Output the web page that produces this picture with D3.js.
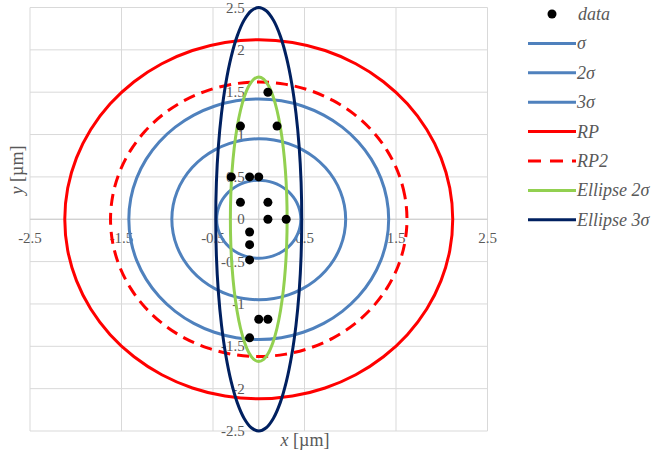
<html>
<head>
    <script src="https://cdn.jsdelivr.net/npm/d3@7"></script>
</head>
<body style="margin:0; background:#fff">
    <svg id="chart" width="665" height="451"></svg>
    <script>
        // measured data points [x, y] in µm
        var pointsX = [0.1, -0.2, 0.2, -0.3, -0.1, 0, -0.2, 0.1, 0.1, 0.3, -0.1, -0.1, -0.1, 0, 0.1, -0.1];
        var pointsY = [1.5, 1.1, 1.1, 0.5, 0.5, 0.5, 0.2, 0.2, 0, 0, -0.15, -0.3, -0.48, -1.18, -1.18, -1.4];

        // curve series: name, radius x, radius y, colour, dash
        var seriesNames = ["σ", "2σ", "3σ", "RP", "RP2", "Ellipse 2σ", "Ellipse 3σ"];
        var radiusX = [0.46, 0.95, 1.42, 2.12, 1.62, 0.31, 0.47];
        var radiusY = [0.46, 0.95, 1.42, 2.12, 1.62, 1.68, 2.5];
        var seriesColors = ["#4f81bd", "#4f81bd", "#4f81bd", "#ff0000", "#ff0000", "#92d050", "#002060"];
        var seriesDash = [null, null, null, null, "12,7", null, null];

        var xTickLabels = [-2.5, -1.5, -0.5, 0.5, 1.5, 2.5];
        var yTickLabels = [-2.5, -2, -1.5, -1, -0.5, 0, 0.5, 1, 1.5, 2, 2.5];

        var font = "Liberation Serif";
        var svg = d3.select("#chart");

        var x = d3.scaleLinear().domain([-2.5, 2.5]).range([30, 487.5]);
        var y = d3.scaleLinear().domain([-2.5, 2.5]).range([431, 7.5]);

        // grid
        var grid = svg.append("g");
        grid.selectAll(".vg")
            .data(xTickLabels)
            .enter()
            .append("line")
            .attr("x1", (d) => x(d)).attr("x2", (d) => x(d))
            .attr("y1", y(-2.5)).attr("y2", y(2.5))
            .attr("stroke", "#d9d9d9").attr("stroke-width", 1);
        grid.selectAll(".hg")
            .data(yTickLabels)
            .enter()
            .append("line")
            .attr("x1", x(-2.5)).attr("x2", x(2.5))
            .attr("y1", (d) => y(d)).attr("y2", (d) => y(d))
            .attr("stroke", "#d9d9d9").attr("stroke-width", 1);

        // axes through zero
        svg.append("line")
            .attr("x1", x(0)).attr("x2", x(0))
            .attr("y1", y(-2.5)).attr("y2", y(2.5))
            .attr("stroke", "#cccccc").attr("stroke-width", 1);
        svg.append("line")
            .attr("x1", x(-2.5)).attr("x2", x(2.5))
            .attr("y1", y(0)).attr("y2", y(0))
            .attr("stroke", "#cccccc").attr("stroke-width", 1);

        // tick labels
        svg.selectAll(".xl")
            .data(xTickLabels)
            .enter()
            .append("text")
            .attr("x", (d) => x(d))
            .attr("y", y(0) + 24)
            .attr("text-anchor", "middle")
            .attr("font-family", font)
            .attr("font-size", 15)
            .attr("fill", "#595959")
            .text((d) => d);
        svg.selectAll(".yl")
            .data(yTickLabels)
            .enter()
            .append("text")
            .attr("x", x(0) - 14)
            .attr("y", (d) => y(d) + 5)
            .attr("text-anchor", "end")
            .attr("font-family", font)
            .attr("font-size", 15)
            .attr("fill", "#595959")
            .text((d) => d);

        // axis titles
        var xt = svg.append("text")
            .attr("x", 305).attr("y", 446)
            .attr("text-anchor", "middle")
            .attr("font-family", font)
            .attr("font-size", 18)
            .attr("fill", "#595959");
        xt.append("tspan").attr("font-style", "italic").text("x");
        xt.append("tspan").text(" [µm]");

        var yt = svg.append("text")
            .attr("transform", "translate(23,170) rotate(-90)")
            .attr("text-anchor", "middle")
            .attr("font-family", font)
            .attr("font-size", 18)
            .attr("fill", "#595959");
        yt.append("tspan").attr("font-style", "italic").text("y");
        yt.append("tspan").text(" [µm]");

        // curves (10 degree steps, smoothed like the source chart)
        var angles = d3.range(0, 360, 10);
        var line = d3.line()
            .x((d) => x(d[0]))
            .y((d) => y(d[1]))
            .curve(d3.curveCatmullRomClosed);

        seriesNames.forEach(function (name, i) {
            var pts = angles.map((a) => [radiusX[i] * Math.cos(a * Math.PI / 180), radiusY[i] * Math.sin(a * Math.PI / 180)]);
            svg.append("path")
                .attr("d", line(pts))
                .attr("fill", "none")
                .attr("stroke", seriesColors[i])
                .attr("stroke-width", 3)
                .attr("stroke-linejoin", "round")
                .attr("stroke-dasharray", seriesDash[i]);
        });

        // data points
        svg.selectAll(".pt")
            .data(pointsX)
            .enter()
            .append("circle")
            .attr("cx", (d) => x(d))
            .attr("cy", (d, i) => y(pointsY[i]))
            .attr("r", 4.5)
            .attr("fill", "#000");

        // legend
        var lg = svg.append("g");
        var ly0 = 14, lstep = 29.4;
        lg.append("circle").attr("cx", 552).attr("cy", ly0).attr("r", 4.5).attr("fill", "#000");
        lg.append("text")
            .attr("x", 578).attr("y", ly0 + 6)
            .attr("font-family", font)
            .attr("font-size", 18).attr("font-style", "italic").attr("fill", "#595959")
            .text("data");
        seriesNames.forEach(function (name, i) {
            var ly = ly0 + lstep * (i + 1);
            lg.append("line")
                .attr("x1", 528).attr("x2", 576)
                .attr("y1", ly).attr("y2", ly)
                .attr("stroke", seriesColors[i])
                .attr("stroke-width", 3)
                .attr("stroke-dasharray", seriesDash[i] ? "13,9" : null);
            lg.append("text")
                .attr("x", 577).attr("y", ly + 6)
                .attr("font-family", font)
                .attr("font-size", 18).attr("font-style", "italic").attr("fill", "#595959")
                .text(name);
        });
    </script>
</body>
</html>
